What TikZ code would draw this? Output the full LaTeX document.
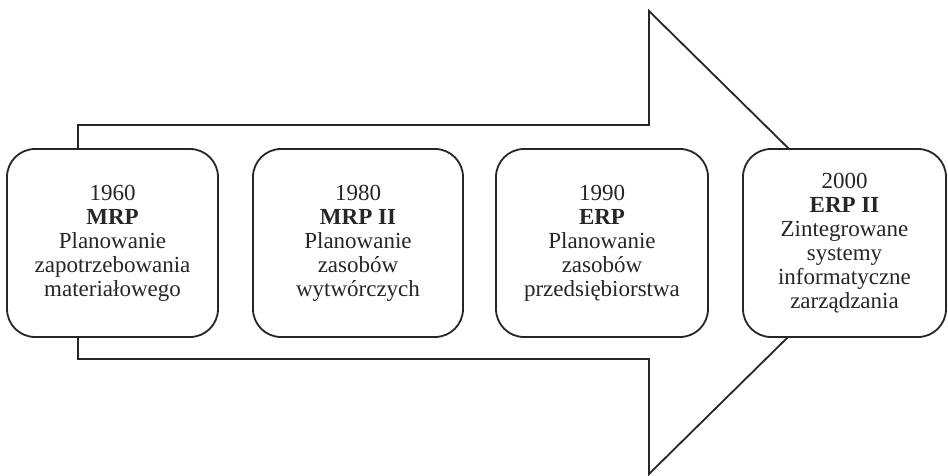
\documentclass[tikz,border=0pt]{standalone}
\usepackage{fontspec}
\setmainfont{Liberation Serif}
\begin{document}
\begin{tikzpicture}[x=1pt,y=-1pt,
  stage/.style={draw=black!85, line width=1.8pt, fill=white, rounded corners=28pt,
    minimum height=188pt, inner sep=0pt, align=center,
    font=\fontsize{23}{24}\selectfont, text=black!85},
  bigarrow/.style={draw=black!85, line width=1.8pt, line join=miter, fill=white}]
\useasboundingbox (0,0) rectangle (948,475);
\draw[bigarrow] (78,125) -- (649,125) -- (649,11) -- (884,242.5) -- (649,474) -- (649,359) -- (78,359) -- cycle;
\node[stage, minimum width=211pt] (b1) at (112.5,243) {1960\\\textbf{MRP}\\Planowanie\\zapotrzebowania\\materiałowego};
\node[stage, minimum width=210pt] (b2) at (358,243) {1980\\\textbf{MRP II}\\Planowanie\\zasobów\\wytwórczych};
\node[stage, minimum width=212pt] (b3) at (602,243) {1990\\\textbf{ERP}\\Planowanie\\zasobów\\przedsiębiorstwa};
\node[stage, minimum width=203pt] (b4) at (844.5,243) {2000\\\textbf{ERP II}\\Zintegrowane\\systemy\\informatyczne\\zarządzania};
\end{tikzpicture}
\end{document}
